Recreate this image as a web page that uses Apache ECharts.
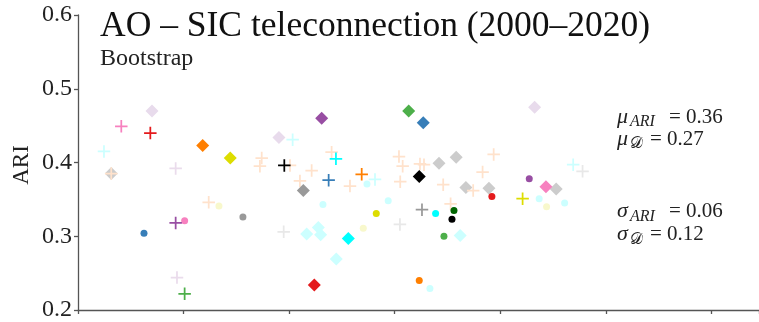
<!DOCTYPE html>
<html>
<head>
<meta charset="utf-8">
<script src="https://cdn.jsdelivr.net/npm/echarts@6/dist/echarts.min.js"></script>
<style>
  html, body { margin: 0; padding: 0; background: #fff; }
  #chart { width: 759px; height: 322px; }
</style>
</head>
<body>
<div id="chart"></div>
<script>
// y ticks
const yTicks = [0.2, 0.3, 0.4, 0.5, 0.6];

// circles
const blueCircles = [[0.625, 0.304]];
const pinkCircles = [[1.01, 0.321]];
const greyCircles = [[1.562, 0.326]];
const paleYellowCircles = [[1.335, 0.341], [2.702, 0.311], [4.438, 0.340]];
const paleCyanCircles = [[2.32, 0.343], [2.737, 0.371], [2.938, 0.348], [3.333, 0.229], [4.368, 0.351], [4.609, 0.345]];
const yellowCircles = [[2.825, 0.331]];
const orangeCircles = [[3.232, 0.240]];
const redCircles = [[3.92, 0.354]];
const cyanCircles = [[3.387, 0.331]];
const darkGreenCircles = [[3.561, 0.335]];
const blackCircles = [[3.542, 0.323]];
const greenCircles = [[3.466, 0.300]];
const purpleCircles = [[4.274, 0.378]];

// diamonds
const paleLilacDiamonds = [[0.701, 0.470], [1.903, 0.434], [4.325, 0.475]];
const orangeDiamonds = [[1.181, 0.423]];
const yellowDiamonds = [[1.442, 0.406]];
const paleGreyDiamonds = [[0.315, 0.385], [3.419, 0.399], [3.582, 0.407], [3.674, 0.366], [3.892, 0.365], [4.529, 0.364]];
const greyDiamonds = [[2.134, 0.362]];
const purpleDiamonds = [[2.308, 0.460]];
const greenDiamonds = [[3.132, 0.470]];
const blueDiamonds = [[3.27, 0.454]];
const blackDiamonds = [[3.232, 0.381]];
const paleCyanDiamonds = [[2.166, 0.303], [2.276, 0.312], [2.298, 0.302], [2.446, 0.269], [3.62, 0.301]];
const cyanDiamonds = [[2.56, 0.297]];
const redDiamonds = [[2.238, 0.234]];
const pinkDiamonds = [[4.432, 0.367]];

// plus markers
const pinkPlus = [[0.41, 0.449]];
const redPlus = [[0.685, 0.440]];
const paleCyanPlus = [[0.246, 0.415], [2.033, 0.431], [2.813, 0.377], [4.69, 0.397]];
const paleLilacPlus = [[0.925, 0.392], [0.9375, 0.244]];
const peachPlus = [[0.315, 0.385], [1.238, 0.346], [1.74, 0.406], [1.723, 0.395], [2.008, 0.396], [2.213, 0.389],
  [2.402, 0.414], [2.102, 0.375], [2.576, 0.368], [3.04, 0.408], [3.075, 0.395], [3.052, 0.374], [3.239, 0.398],
  [3.277, 0.397], [3.937, 0.411], [3.832, 0.387], [3.459, 0.370], [3.743, 0.362], [3.529, 0.344]];
const purplePlus = [[0.925, 0.318]];
const greenPlus = [[1.01, 0.222]];
const blackPlus = [[1.954, 0.396]];
const cyanPlus = [[2.443, 0.405]];
const bluePlus = [[2.374, 0.376]];
const orangePlus = [[2.687, 0.384]];
const paleGreyPlus = [[1.948, 0.306], [3.049, 0.316], [4.779, 0.388]];
const greyPlus = [[3.258, 0.336]];
const yellowPlus = [[4.211, 0.351]];

const PLUS = 'path://M0,8.6H20V11.4H0Z M8.6,0H11.4V20H8.6Z';
const shapes = {
  circle: { symbol: 'circle', size: 7 },
  diamond: { symbol: 'diamond', size: 13 },
  plus: { symbol: PLUS, size: 12.5 }
};

// drawing order: pale first, strong on top
const layers = [
  [paleGreyDiamonds, 'diamond', '#cccccc'],
  [paleLilacDiamonds, 'diamond', '#e8dbec'],
  [paleCyanDiamonds, 'diamond', '#ccffff'],
  [paleYellowCircles, 'circle', '#f8f8cc'],
  [paleCyanCircles, 'circle', '#ccffff'],
  [peachPlus, 'plus', '#ffe2cc'],
  [paleCyanPlus, 'plus', '#ccffff'],
  [paleLilacPlus, 'plus', '#eadcec'],
  [paleGreyPlus, 'plus', '#e8e8e8'],
  [blueCircles, 'circle', '#377eb8'],
  [pinkCircles, 'circle', '#f781bf'],
  [greyCircles, 'circle', '#999999'],
  [yellowCircles, 'circle', '#dddd00'],
  [orangeCircles, 'circle', '#ff7f00'],
  [redCircles, 'circle', '#e41a1c'],
  [cyanCircles, 'circle', '#00ffff'],
  [darkGreenCircles, 'circle', '#006400'],
  [blackCircles, 'circle', '#000000'],
  [greenCircles, 'circle', '#4daf4a'],
  [purpleCircles, 'circle', '#984ea3'],
  [orangeDiamonds, 'diamond', '#ff7f00'],
  [yellowDiamonds, 'diamond', '#dddd00'],
  [greyDiamonds, 'diamond', '#999999'],
  [purpleDiamonds, 'diamond', '#984ea3'],
  [greenDiamonds, 'diamond', '#4daf4a'],
  [blueDiamonds, 'diamond', '#377eb8'],
  [blackDiamonds, 'diamond', '#000000'],
  [cyanDiamonds, 'diamond', '#00ffff'],
  [redDiamonds, 'diamond', '#e41a1c'],
  [pinkDiamonds, 'diamond', '#f781bf'],
  [pinkPlus, 'plus', '#f781bf'],
  [redPlus, 'plus', '#e41a1c'],
  [purplePlus, 'plus', '#984ea3'],
  [greenPlus, 'plus', '#4daf4a'],
  [blackPlus, 'plus', '#000000'],
  [cyanPlus, 'plus', '#00ffff'],
  [bluePlus, 'plus', '#377eb8'],
  [orangePlus, 'plus', '#ff7f00'],
  [greyPlus, 'plus', '#999999'],
  [yellowPlus, 'plus', '#dddd00']
];

const SERIF = '"Liberation Serif", "DejaVu Serif", serif';
const axisColor = '#555555';

const chart = echarts.init(document.getElementById('chart'));

const series = layers.map(([data, shape, color]) => ({
  type: 'scatter',
  data: data,
  symbol: shapes[shape].symbol,
  symbolSize: shapes[shape].size,
  itemStyle: { color: color, opacity: 1 },
  silent: true
}));

function statLine(x, y, letter, sub, value) {
  const subX = x + 13;
  const eqX = sub === 'ARI' ? x + 52 : x + 33;
  return [
    { type: 'text', x: x, y: y, style: { text: letter, font: 'italic 22px ' + SERIF, fill: '#222', verticalAlign: 'middle' } },
    { type: 'text', x: subX, y: y + 5, style: { text: sub, font: (sub === 'ARI' ? 'italic ' : '') + '16px ' + SERIF, fill: '#222', verticalAlign: 'middle' } },
    { type: 'text', x: eqX, y: y, style: { text: '= ' + value, font: '21px ' + SERIF, fill: '#222', verticalAlign: 'middle' } }
  ];
}

chart.setOption({
  animation: false,
  grid: { left: 78, right: 0, top: 15, bottom: 12 },
  xAxis: {
    type: 'value',
    min: 0,
    max: 6.45,
    interval: 1,
    axisLine: { show: true, lineStyle: { color: axisColor, width: 1.3 } },
    axisTick: { show: true, length: 4, lineStyle: { color: axisColor, width: 1.3 } },
    axisLabel: { show: false },
    splitLine: { show: false }
  },
  yAxis: {
    type: 'value',
    min: yTicks[0],
    max: yTicks[yTicks.length - 1],
    interval: 0.1,
    axisLine: { show: true, lineStyle: { color: axisColor, width: 1.3 } },
    axisTick: { show: true, length: 4, lineStyle: { color: axisColor, width: 1.3 } },
    axisLabel: {
      color: '#222',
      fontFamily: SERIF,
      fontSize: 24,
      margin: 6,
      padding: [3, 0, 0, 0],
      formatter: v => v.toFixed(1)
    },
    splitLine: { show: false }
  },
  graphic: [
    { type: 'text', x: 100, y: 27, style: { text: 'AO – SIC teleconnection (2000–2020)', font: '35.5px ' + SERIF, fill: '#111', verticalAlign: 'middle' } },
    { type: 'text', x: 100, y: 59, style: { text: 'Bootstrap', font: '24px ' + SERIF, fill: '#222', verticalAlign: 'middle' } },
    { type: 'text', x: 22, y: 165, rotation: Math.PI / 2, style: { text: 'ARI', font: '23px ' + SERIF, fill: '#222', align: 'center', verticalAlign: 'middle' } },
    ...statLine(617, 117, 'μ', 'ARI', '0.36'),
    ...statLine(617, 139, 'μ', '𝒟', '0.27'),
    ...statLine(617, 211.5, 'σ', 'ARI', '0.06'),
    ...statLine(617, 234.5, 'σ', '𝒟', '0.12')
  ],
  series: series
});
</script>
</body>
</html>
